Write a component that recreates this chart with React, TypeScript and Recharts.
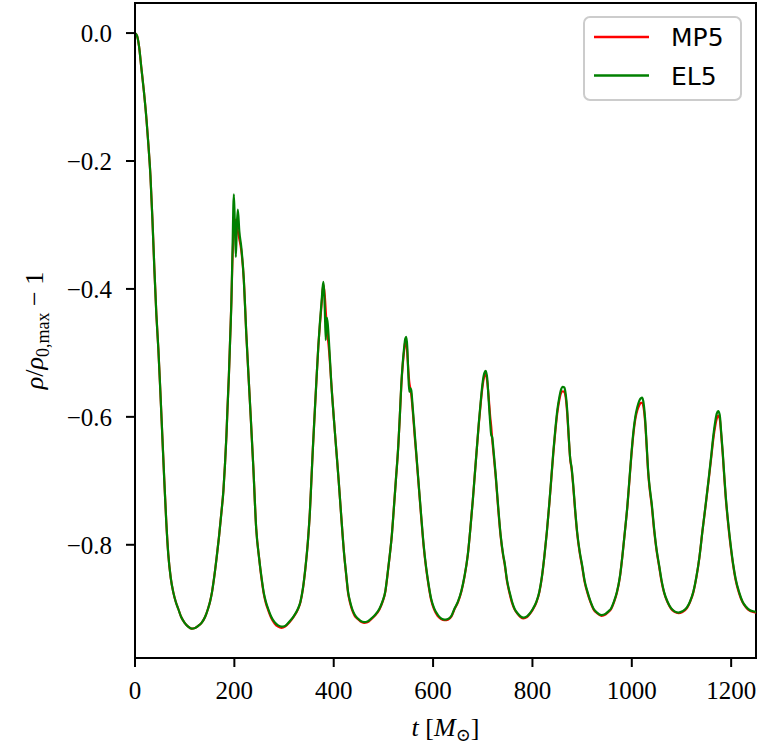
import React from 'react';
import { LineChart, Line, XAxis, YAxis, ReferenceArea, Legend } from 'recharts';

// time in M_sun
const timeValues = [
  0, 4, 8, 13, 18, 23, 27, 31, 35, 39, 43, 47, 51, 55, 59, 63, 67, 72, 77, 82, 87, 93, 100, 107, 114, 121, 127, 134, 141, 147,
  151, 155, 159, 164, 169, 174, 178, 181, 184, 186, 189, 191, 194, 196, 199, 201, 203, 205, 207, 210, 214, 219, 224, 231, 238,
  244, 250, 255, 259, 263, 268, 274, 281, 288, 295, 302, 311, 320, 328, 333, 338, 343, 348, 352, 355, 358, 362, 365, 369, 372,
  376, 379, 382, 384, 386, 388, 391, 395, 400, 405, 410, 415, 421, 425, 429, 433, 437, 442, 448, 454, 461, 468, 476, 484, 492,
  498, 504, 508, 513, 517, 520, 525, 530, 533, 536, 539, 542, 544, 546, 548, 550, 552, 554, 556, 559, 563, 566, 571, 576, 581,
  586, 590, 596, 602, 609, 616, 623, 630, 637, 643, 650, 657, 663, 670, 675, 680, 684, 688, 692, 696, 700, 703, 706, 709, 712,
  715, 717, 719, 722, 726, 731, 736, 741, 744, 749, 754, 759, 764, 770, 776, 782, 789, 795, 801, 808, 814, 819, 824, 829, 834,
  838, 842, 846, 850, 854, 857, 861, 864, 867, 870, 873, 876, 879, 882, 886, 890, 895, 900, 905, 911, 917, 923, 930, 939, 947,
  953, 958, 964, 970, 976, 981, 986, 991, 995, 999, 1003, 1007, 1011, 1015, 1018, 1021, 1024, 1027, 1030, 1033, 1036, 1040, 1045, 1050, 1055,
  1060, 1065, 1072, 1079, 1086, 1094, 1102, 1111, 1117, 1124, 1130, 1136, 1142, 1149, 1155, 1160, 1164, 1168, 1171, 1174, 1177, 1180, 1183, 1186, 1189,
  1194, 1199, 1204, 1209, 1216, 1223, 1230, 1237, 1244, 1250,
];

// MP5 (red)
const mp5Values = [
  0, -0.004, -0.02, -0.056, -0.092, -0.134, -0.175, -0.222, -0.29, -0.369, -0.44, -0.494, -0.56, -0.63, -0.7, -0.765, -0.815, -0.852, -0.874, -0.889, -0.9, -0.913, -0.922, -0.928, -0.931, -0.93, -0.927, -0.922, -0.913, -0.9,
  -0.889, -0.874, -0.853, -0.822, -0.788, -0.749, -0.715, -0.676, -0.63, -0.59, -0.535, -0.49, -0.42, -0.36, -0.305, -0.292, -0.292, -0.3, -0.31, -0.322, -0.34, -0.385, -0.47, -0.572, -0.676,
  -0.775, -0.822, -0.855, -0.876, -0.89, -0.902, -0.914, -0.923, -0.928, -0.93, -0.928, -0.921, -0.912, -0.901, -0.89, -0.869, -0.837, -0.795, -0.749, -0.7, -0.65, -0.59, -0.546, -0.49, -0.458,
  -0.42, -0.393, -0.41, -0.435, -0.46, -0.475, -0.5, -0.546, -0.6, -0.65, -0.7, -0.754, -0.815, -0.847, -0.876, -0.891, -0.902, -0.911, -0.916, -0.92, -0.922, -0.921, -0.916, -0.91, -0.901,
  -0.89, -0.873, -0.849, -0.815, -0.785, -0.754, -0.7, -0.645, -0.6, -0.552, -0.518, -0.495, -0.483, -0.482, -0.5, -0.525, -0.545, -0.555, -0.565, -0.59, -0.63, -0.658, -0.707, -0.756, -0.802,
  -0.837, -0.859, -0.886, -0.901, -0.911, -0.916, -0.918, -0.917, -0.912, -0.901, -0.89, -0.873, -0.851, -0.815, -0.775, -0.73, -0.69, -0.65, -0.612, -0.578, -0.55, -0.537, -0.533, -0.545, -0.57,
  -0.6, -0.615, -0.635, -0.66, -0.693, -0.743, -0.787, -0.817, -0.83, -0.858, -0.876, -0.891, -0.901, -0.908, -0.913, -0.915, -0.913, -0.908, -0.901, -0.89, -0.874, -0.851, -0.818, -0.78, -0.736,
  -0.697, -0.657, -0.623, -0.594, -0.574, -0.564, -0.56, -0.561, -0.57, -0.595, -0.632, -0.666, -0.683, -0.708, -0.748, -0.782, -0.812, -0.834, -0.858, -0.876, -0.89, -0.901, -0.907, -0.911, -0.909,
  -0.905, -0.901, -0.89, -0.875, -0.851, -0.818, -0.78, -0.741, -0.702, -0.662, -0.628, -0.604, -0.59, -0.582, -0.578, -0.578, -0.587, -0.61, -0.648, -0.688, -0.713, -0.738, -0.778, -0.81, -0.834,
  -0.858, -0.875, -0.89, -0.9, -0.905, -0.907, -0.905, -0.899, -0.89, -0.874, -0.851, -0.82, -0.78, -0.736, -0.697, -0.663, -0.635, -0.614, -0.603, -0.598, -0.603, -0.628, -0.658, -0.693, -0.726,
  -0.768, -0.803, -0.832, -0.855, -0.876, -0.89, -0.898, -0.903, -0.905, -0.906,
];

// EL5 (green)
const el5Values = [
  0, -0.004, -0.02, -0.056, -0.092, -0.134, -0.175, -0.222, -0.29, -0.369, -0.44, -0.494, -0.56, -0.63, -0.7, -0.765, -0.815, -0.852, -0.874, -0.889, -0.9, -0.913, -0.922, -0.928, -0.931, -0.93, -0.927, -0.922, -0.913, -0.9,
  -0.889, -0.874, -0.853, -0.822, -0.788, -0.749, -0.715, -0.676, -0.63, -0.59, -0.535, -0.49, -0.42, -0.35, -0.252, -0.3, -0.35, -0.3, -0.276, -0.31, -0.335, -0.385, -0.47, -0.572, -0.676,
  -0.775, -0.822, -0.853, -0.874, -0.888, -0.9, -0.912, -0.921, -0.926, -0.928, -0.927, -0.92, -0.911, -0.9, -0.889, -0.868, -0.836, -0.795, -0.749, -0.7, -0.65, -0.59, -0.546, -0.49, -0.455,
  -0.415, -0.389, -0.43, -0.48, -0.445, -0.455, -0.49, -0.546, -0.6, -0.65, -0.7, -0.754, -0.815, -0.845, -0.874, -0.889, -0.9, -0.909, -0.915, -0.919, -0.921, -0.92, -0.915, -0.909, -0.9,
  -0.889, -0.872, -0.848, -0.815, -0.785, -0.754, -0.7, -0.645, -0.6, -0.55, -0.515, -0.49, -0.478, -0.475, -0.49, -0.53, -0.561, -0.555, -0.558, -0.585, -0.625, -0.655, -0.705, -0.754, -0.8,
  -0.835, -0.857, -0.884, -0.899, -0.909, -0.915, -0.917, -0.916, -0.911, -0.9, -0.889, -0.872, -0.85, -0.815, -0.775, -0.73, -0.69, -0.65, -0.61, -0.575, -0.545, -0.532, -0.528, -0.54, -0.575,
  -0.61, -0.628, -0.632, -0.655, -0.69, -0.74, -0.785, -0.815, -0.828, -0.856, -0.874, -0.889, -0.9, -0.907, -0.912, -0.914, -0.912, -0.907, -0.9, -0.889, -0.873, -0.85, -0.818, -0.78, -0.735,
  -0.695, -0.655, -0.62, -0.59, -0.57, -0.559, -0.553, -0.554, -0.565, -0.59, -0.63, -0.665, -0.68, -0.705, -0.745, -0.78, -0.81, -0.832, -0.856, -0.874, -0.889, -0.9, -0.906, -0.91, -0.908,
  -0.904, -0.9, -0.889, -0.874, -0.85, -0.818, -0.78, -0.74, -0.7, -0.66, -0.625, -0.6, -0.585, -0.575, -0.571, -0.57, -0.58, -0.605, -0.645, -0.685, -0.71, -0.735, -0.775, -0.808, -0.832,
  -0.856, -0.874, -0.889, -0.899, -0.904, -0.906, -0.904, -0.898, -0.889, -0.873, -0.85, -0.82, -0.78, -0.735, -0.695, -0.66, -0.63, -0.607, -0.595, -0.591, -0.597, -0.625, -0.655, -0.69, -0.723,
  -0.765, -0.8, -0.83, -0.853, -0.874, -0.889, -0.897, -0.902, -0.904, -0.905,
];

const xTicks = [0, 200, 400, 600, 800, 1000, 1200];
const yTicks = [0, -0.2, -0.4, -0.6, -0.8];
const seriesNames = ['MP5', 'EL5'];
const seriesColors = ['#ff0000', '#008000'];

const X_DOMAIN: [number, number] = [0, 1250];
const Y_DOMAIN: [number, number] = [-0.977, 0.047];

const data = timeValues.map((t, i) => ({ t, mp5: mp5Values[i], el5: el5Values[i] }));

const SERIF = '"Liberation Serif", "DejaVu Serif", serif';
const SANS = '"DejaVu Sans", sans-serif';

const fmtY = (v: number) => (v < 0 ? '\u2212' : '') + Math.abs(v).toFixed(1);

const YLabel = (props: any) => {
  const vb = props.viewBox || { x: 0, y: 3, width: 135, height: 655 };
  const cy = vb.y + vb.height / 2;
  const x = 43;
  return (
    <text
      x={x}
      y={cy}
      transform={`rotate(-90, ${x}, ${cy})`}
      textAnchor="middle"
      fontFamily={SERIF}
      fontSize={26}
      fill="#000"
    >
      <tspan fontStyle="italic">ρ</tspan>
      <tspan>/</tspan>
      <tspan fontStyle="italic">ρ</tspan>
      <tspan fontSize={18} dy={6}>0,max</tspan>
      <tspan dy={-6}>{' \u2212 1'}</tspan>
    </text>
  );
};

const XLabel = (props: any) => {
  const vb = props.viewBox || { x: 135, y: 658, width: 621, height: 90 };
  const cx = vb.x + vb.width / 2;
  return (
    <text x={cx} y={736} textAnchor="middle" fontFamily={SERIF} fontSize={26} fill="#000">
      <tspan fontStyle="italic">t</tspan>
      <tspan>{' ['}</tspan>
      <tspan fontStyle="italic">M</tspan>
      <tspan fontSize={18} dy={5}>⊙</tspan>
      <tspan dy={-5}>]</tspan>
    </text>
  );
};

const LegendBox = () => (
  <svg width={160} height={86} style={{ display: 'block' }}>
    <rect x={1} y={1} width={157} height={83} rx={6} ry={6} fill="#ffffff" fillOpacity={0.8} stroke="#cccccc" strokeWidth={2} />
    {seriesNames.map((name, i) => (
      <g key={name}>
        <line x1={11} x2={66} y1={21 + i * 38.5} y2={21 + i * 38.5} stroke={seriesColors[i]} strokeWidth={2.5} />
        <text x={88} y={30 + i * 38.5} fontFamily={SANS} fontSize={25} fill="#000">
          {name}
        </text>
      </g>
    ))}
  </svg>
);

export default function App() {
  return (
    <div style={{ position: 'absolute', left: 0, top: 0, width: 760, height: 748, background: '#fff' }}>
      <LineChart width={760} height={748} data={data} margin={{ top: 3, right: 4, bottom: 0, left: 0 }}>
        <XAxis
          dataKey="t"
          type="number"
          domain={X_DOMAIN}
          allowDataOverflow
          ticks={xTicks}
          height={90}
          tickSize={9}
          tickMargin={14}
          axisLine={{ stroke: '#000', strokeWidth: 2 }}
          tickLine={{ stroke: '#000', strokeWidth: 2 }}
          tick={{ fill: '#000', fontSize: 25, fontFamily: SERIF }}
          label={<XLabel />}
        />
        <YAxis
          type="number"
          domain={Y_DOMAIN}
          allowDataOverflow
          ticks={yTicks}
          width={135}
          tickSize={9}
          tickMargin={14}
          tickFormatter={fmtY}
          axisLine={{ stroke: '#000', strokeWidth: 2 }}
          tickLine={{ stroke: '#000', strokeWidth: 2 }}
          tick={{ fill: '#000', fontSize: 25, fontFamily: SERIF }}
          label={<YLabel />}
        />
        <Line
          type="monotone"
          dataKey="mp5"
          name={seriesNames[0]}
          stroke={seriesColors[0]}
          strokeWidth={2.2}
          dot={false}
          isAnimationActive={false}
        />
        <Line
          type="monotone"
          dataKey="el5"
          name={seriesNames[1]}
          stroke={seriesColors[1]}
          strokeWidth={2.2}
          dot={false}
          isAnimationActive={false}
        />
        <ReferenceArea
          x1={X_DOMAIN[0]}
          x2={X_DOMAIN[1]}
          y1={Y_DOMAIN[0]}
          y2={Y_DOMAIN[1]}
          fill="none"
          fillOpacity={0}
          stroke="#000"
          strokeWidth={2}
          ifOverflow="visible"
        />
        <Legend
          layout="vertical"
          align="center"
          verticalAlign="middle"
          wrapperStyle={{ position: 'absolute', left: 583, top: 16, width: 160, height: 86 }}
          content={() => <LegendBox />}
        />
      </LineChart>
    </div>
  );
}
